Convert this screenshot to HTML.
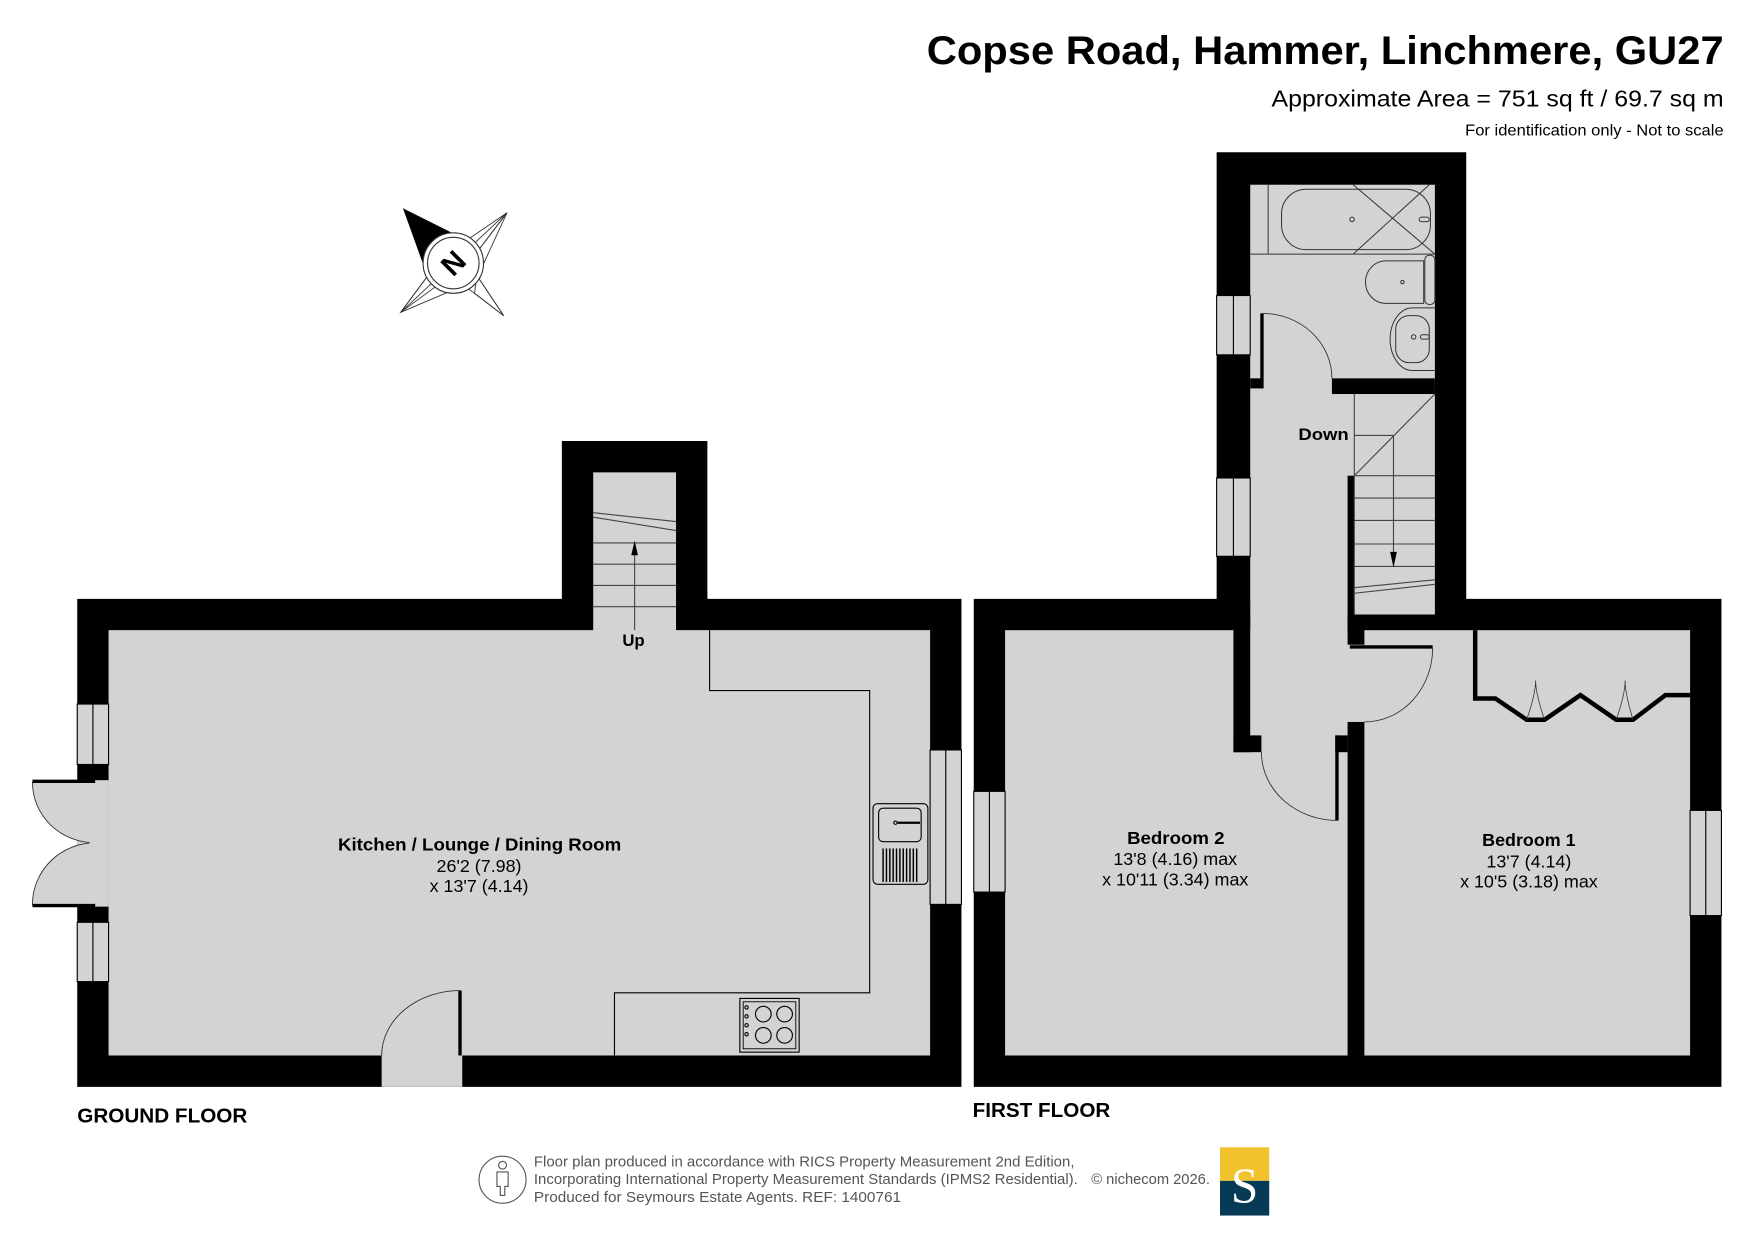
<!DOCTYPE html>
<html><head><meta charset="utf-8"><style>
html,body{margin:0;padding:0;background:#fff;}
svg{display:block;}
text{font-family:"Liberation Sans",Arial,sans-serif;}
</style></head><body>
<svg width="1755" height="1241" viewBox="0 0 1568 1108.7" xmlns="http://www.w3.org/2000/svg">
<rect x="0" y="0" width="1568" height="1109" fill="#fff"/>
<!-- Titles -->
<text x="828" y="57" font-size="36" font-weight="bold" textLength="712" lengthAdjust="spacingAndGlyphs">Copse Road, Hammer, Linchmere, GU27</text>
<text x="1136" y="95" font-size="21" textLength="404" lengthAdjust="spacingAndGlyphs">Approximate Area = 751 sq ft / 69.7 sq m</text>
<text x="1309" y="121" font-size="14" textLength="231" lengthAdjust="spacingAndGlyphs">For identification only - Not to scale</text>

<!-- Compass -->
<g stroke="#333" stroke-width="0.8" fill="none">
<polygon points="453,190 424,228 412,218"/>
<polygon points="453,190 430,240 424,228"/>
<polygon points="450,282 416,256 426,246"/>
<polygon points="450,282 424,262 426,246"/>
<polygon points="358,279 392,254 384,244"/>
<polygon points="358,279 398,262 384,244"/>
<line x1="453" y1="190" x2="358" y2="279"/>
</g>
<polygon points="360,186 412,212 384,232 380,236" fill="#000"/>
<polygon points="360,186 378,236 395,216" fill="#000"/>
<circle cx="405" cy="235" r="27" fill="#fff" stroke="#333" stroke-width="1"/>
<circle cx="405" cy="235" r="23" fill="#fff" stroke="#333" stroke-width="1"/>
<text x="405" y="244" text-anchor="middle" font-size="26" font-weight="bold" transform="rotate(-45 405 235)">N</text>

<!-- GROUND FLOOR -->
<polygon points="69,535 502,535 502,394 632,394 632,535 859,535 859,971 69,971" fill="#000"/>
<polygon points="97,563 530,563 530,422 604,422 604,563 831,563 831,943 97,943" fill="#d3d3d3"/>
<g fill="#d3d3d3" stroke="#000" stroke-width="1">
<rect x="69" y="629" width="28" height="54"/><line x1="83" y1="629" x2="83" y2="683"/>
<rect x="69" y="824" width="28" height="53"/><line x1="83" y1="824" x2="83" y2="877"/>
<rect x="831" y="670" width="28" height="138"/><line x1="845" y1="670" x2="845" y2="808"/>
</g>
<rect x="69" y="697" width="28" height="113" fill="#d3d3d3"/>
<path d="M29,699 L85,699 L85,753 A56,54 0 0 1 29,699 Z" fill="#d3d3d3" stroke="#333" stroke-width="0.8"/>
<path d="M29,808 L85,808 L85,753 A56,55 0 0 0 29,808 Z" fill="#d3d3d3" stroke="#333" stroke-width="0.8"/>
<rect x="80" y="699" width="17" height="109" fill="#d3d3d3"/>
<line x1="29" y1="698" x2="85" y2="698" stroke="#000" stroke-width="3"/>
<line x1="29" y1="809" x2="85" y2="809" stroke="#000" stroke-width="3"/>
<rect x="341" y="943" width="72" height="28" fill="#d3d3d3"/>
<path d="M341,943 A70,58 0 0 1 411,885" fill="none" stroke="#333" stroke-width="0.8"/>
<line x1="411" y1="885" x2="411" y2="943" stroke="#000" stroke-width="3"/>
<g stroke="#444" stroke-width="1" fill="none">
<line x1="530" y1="458" x2="604" y2="466"/>
<line x1="530" y1="462" x2="604" y2="474"/>
<line x1="530" y1="485" x2="604" y2="485"/>
<line x1="530" y1="504" x2="604" y2="504"/>
<line x1="530" y1="523" x2="604" y2="523"/>
<line x1="530" y1="542" x2="604" y2="542"/>
<line x1="567" y1="563" x2="567" y2="490"/>
</g>
<polygon points="567,483 564,496 570,496" fill="#000"/>
<text x="566" y="577" text-anchor="middle" font-size="15" font-weight="bold">Up</text>
<polyline points="634,563 634,617 777,617 777,887 549,887 549,943" fill="none" stroke="#000" stroke-width="1"/>
<rect x="780" y="718" width="49" height="72" rx="4" fill="#d3d3d3" stroke="#000" stroke-width="1"/>
<rect x="785" y="722" width="38" height="30" rx="4" fill="none" stroke="#000" stroke-width="1"/>
<line x1="802" y1="735" x2="822" y2="735" stroke="#000" stroke-width="2"/>
<circle cx="800" cy="735" r="1.5" fill="none" stroke="#000"/>
<g stroke="#000" stroke-width="1.3">
<line x1="789" y1="758" x2="789" y2="788"/><line x1="792" y1="758" x2="792" y2="788"/><line x1="795" y1="758" x2="795" y2="788"/><line x1="798" y1="758" x2="798" y2="788"/><line x1="801" y1="758" x2="801" y2="788"/><line x1="804" y1="758" x2="804" y2="788"/><line x1="807" y1="758" x2="807" y2="788"/><line x1="810" y1="758" x2="810" y2="788"/><line x1="813" y1="758" x2="813" y2="788"/><line x1="816" y1="758" x2="816" y2="788"/><line x1="819" y1="758" x2="819" y2="788"/>
</g>
<rect x="661" y="892" width="53" height="48" fill="#d3d3d3" stroke="#000" stroke-width="1"/>
<rect x="664" y="895" width="47" height="42" fill="none" stroke="#000" stroke-width="0.8"/>
<g fill="none" stroke="#000" stroke-width="1">
<circle cx="682" cy="906" r="7"/><circle cx="701" cy="906" r="7"/><circle cx="682" cy="925" r="7"/><circle cx="701" cy="925" r="7"/>
<circle cx="667" cy="900" r="1.5"/><circle cx="667" cy="908" r="1.5"/><circle cx="667" cy="916" r="1.5"/><circle cx="667" cy="924" r="1.5"/>
</g>
<text x="302" y="760" font-size="16" font-weight="bold" textLength="253" lengthAdjust="spacingAndGlyphs">Kitchen / Lounge / Dining Room</text>
<text x="428" y="779" text-anchor="middle" font-size="16">26'2 (7.98)</text>
<text x="428" y="797" text-anchor="middle" font-size="16">x 13'7 (4.14)</text>
<text x="69" y="1003" font-size="18" font-weight="bold" textLength="152" lengthAdjust="spacingAndGlyphs">GROUND FLOOR</text>

<!-- FIRST FLOOR -->
<polygon points="870,535 1087,535 1087,136 1310,136 1310,535 1538,535 1538,971 870,971" fill="#000"/>
<rect x="898" y="563" width="612" height="380" fill="#d3d3d3"/>
<rect x="1117" y="165" width="165" height="384" fill="#d3d3d3"/>
<rect x="1117" y="540" width="87" height="30" fill="#d3d3d3"/>
<rect x="1102" y="535" width="15" height="137" fill="#000"/>
<rect x="1102" y="657" width="25" height="15" fill="#000"/>
<rect x="1204" y="425" width="6" height="124" fill="#000"/>
<rect x="1204" y="549" width="15" height="27" fill="#000"/>
<rect x="1204" y="645" width="15" height="298" fill="#000"/>
<rect x="1193" y="657" width="11" height="15" fill="#000"/>
<rect x="1190" y="338" width="92" height="14" fill="#000"/>
<rect x="1117" y="338" width="11" height="9" fill="#000"/>
<line x1="1127.5" y1="280" x2="1127.5" y2="347" stroke="#000" stroke-width="3"/>
<path d="M1128,280 A62,58 0 0 1 1190,338" fill="none" stroke="#333" stroke-width="0.8"/>
<line x1="1206" y1="578" x2="1280" y2="578" stroke="#000" stroke-width="3"/>
<path d="M1280,579 A61,66 0 0 1 1219,645" fill="none" stroke="#333" stroke-width="0.8"/>
<line x1="1194.5" y1="657" x2="1194.5" y2="733" stroke="#000" stroke-width="3"/>
<path d="M1127,672 A68,61 0 0 0 1195,733" fill="none" stroke="#333" stroke-width="0.8"/>
<g fill="#d3d3d3" stroke="#000" stroke-width="1">
<rect x="1087" y="264" width="30" height="53"/><line x1="1102" y1="264" x2="1102" y2="317"/>
<rect x="1087" y="427" width="30" height="70"/><line x1="1102" y1="427" x2="1102" y2="497"/>
<rect x="870" y="707" width="28" height="90"/><line x1="884" y1="707" x2="884" y2="797"/>
<rect x="1510" y="724" width="28" height="94"/><line x1="1524" y1="724" x2="1524" y2="818"/>
</g>
<g stroke="#444" stroke-width="1" fill="none">
<line x1="1210" y1="352" x2="1210" y2="549"/>
<line x1="1210" y1="425" x2="1282" y2="352"/>
<line x1="1210" y1="389" x2="1245" y2="389"/>
<line x1="1210" y1="425" x2="1282" y2="425"/>
<line x1="1210" y1="445" x2="1282" y2="445"/>
<line x1="1210" y1="465" x2="1282" y2="465"/>
<line x1="1210" y1="486" x2="1282" y2="486"/>
<line x1="1210" y1="506" x2="1282" y2="506"/>
<line x1="1210" y1="525" x2="1282" y2="518"/>
<line x1="1210" y1="530" x2="1282" y2="522"/>
<line x1="1245" y1="389" x2="1245" y2="496"/>
</g>
<polygon points="1245,507 1242,493 1248,493" fill="#000"/>
<text x="1160" y="393" font-size="15" font-weight="bold" textLength="45" lengthAdjust="spacingAndGlyphs">Down</text>
<g fill="none" stroke="#333" stroke-width="0.9">
<line x1="1117" y1="227" x2="1282" y2="227"/>
<line x1="1133" y1="165" x2="1133" y2="227"/>
<rect x="1145" y="169" width="133" height="54" rx="22"/>
<line x1="1209" y1="165" x2="1282" y2="227"/>
<line x1="1277" y1="165" x2="1209" y2="227"/>
<circle cx="1208" cy="196" r="2"/>
<rect x="1268" y="194" width="9" height="4" rx="2"/>
<path d="M1272,233 L1238,233 A18,19 0 0 0 1238,271 L1272,271 Z"/>
<rect x="1273" y="228" width="9" height="44" rx="4"/>
<circle cx="1253" cy="252" r="1.5"/>
<path d="M1282,275 L1262,275 A20,28 0 0 0 1262,331 L1282,331"/>
<rect x="1247" y="282" width="30" height="42" rx="12"/>
<circle cx="1263" cy="301" r="2"/>
<rect x="1269" y="299" width="8" height="4" rx="2"/>
</g>
<polyline points="1318,563 1318,624 1336,624 1364,643 1380,643 1412,621 1444,643 1459,643 1488,621 1510,621" fill="none" stroke="#000" stroke-width="4"/>
<path d="M1364,643 Q1372,620 1372,608 Q1372,620 1380,643 M1444,643 Q1452,620 1452,608 Q1452,620 1459,643" fill="none" stroke="#333" stroke-width="0.7"/>
<text x="1007" y="754" font-size="16" font-weight="bold" textLength="87" lengthAdjust="spacingAndGlyphs">Bedroom 2</text>
<text x="1050" y="773" text-anchor="middle" font-size="16">13'8 (4.16) max</text>
<text x="1050" y="791" text-anchor="middle" font-size="16">x 10'11 (3.34) max</text>
<text x="1366" y="756" text-anchor="middle" font-size="16" font-weight="bold">Bedroom 1</text>
<text x="1366" y="775" text-anchor="middle" font-size="16">13'7 (4.14)</text>
<text x="1366" y="793" text-anchor="middle" font-size="16">x 10'5 (3.18) max</text>
<text x="869" y="998" font-size="18" font-weight="bold" textLength="123" lengthAdjust="spacingAndGlyphs">FIRST FLOOR</text>

<!-- Footer -->
<circle cx="449" cy="1054" r="21" fill="none" stroke="#555" stroke-width="1"/>
<circle cx="449" cy="1041" r="3.5" fill="none" stroke="#555" stroke-width="1"/>
<path d="M444,1047 L454,1047 L454,1060 L451,1060 L451,1068 L447,1068 L447,1060 L444,1060 Z" fill="none" stroke="#555" stroke-width="1"/>
<g font-size="13" fill="#555">
<text x="477" y="1042" textLength="483" lengthAdjust="spacingAndGlyphs">Floor plan produced in accordance with RICS Property Measurement 2nd Edition,</text>
<text x="477" y="1058" textLength="486" lengthAdjust="spacingAndGlyphs">Incorporating International Property Measurement Standards (IPMS2 Residential).</text>
<text x="975" y="1058" textLength="106" lengthAdjust="spacingAndGlyphs">© nichecom 2026.</text>
<text x="477" y="1074" textLength="328" lengthAdjust="spacingAndGlyphs">Produced for Seymours Estate Agents.   REF: 1400761</text>
</g>
<rect x="1090" y="1025" width="44" height="30" fill="#f2c12e"/>
<rect x="1090" y="1055" width="44" height="31" fill="#073a57"/>
<text x="1112" y="1074" text-anchor="middle" font-size="44" fill="#fff" style="font-family:'Liberation Serif',serif">S</text>
</svg>
</body></html>
